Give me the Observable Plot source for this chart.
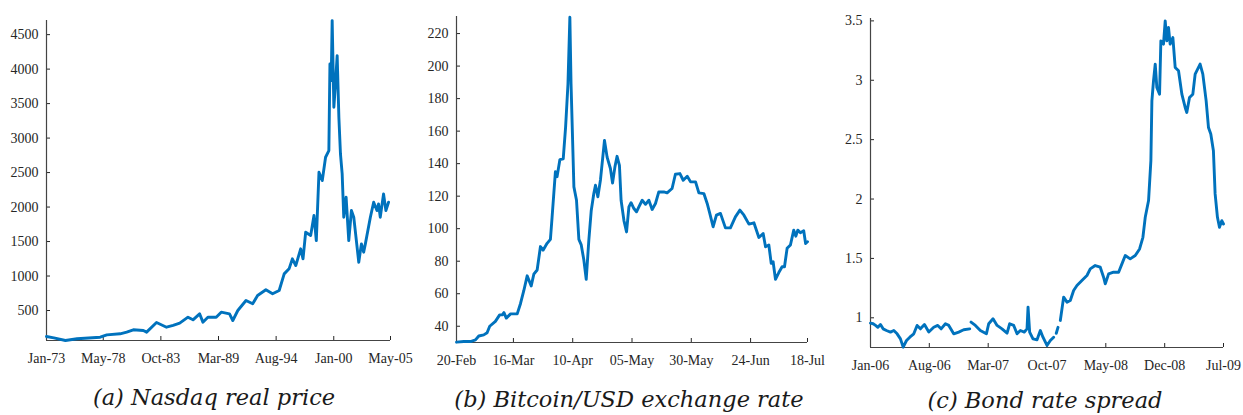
<!DOCTYPE html>
<html><head><meta charset="utf-8">
<script src="https://cdn.jsdelivr.net/npm/d3@7"></script>
<script src="https://cdn.jsdelivr.net/npm/@observablehq/plot@0.6"></script>
<style>
body{margin:0;background:#fff;width:1243px;height:415px;overflow:hidden;position:relative;}
.panel{position:absolute;top:0;}
.panel svg{overflow:visible;}
.cap{position:absolute;font-family:"DejaVu Serif",serif;font-style:italic;font-size:22.5px;line-height:30px;color:#1a1a1a;white-space:nowrap;text-align:center;}
</style></head><body>
<div id="pa" class="panel" style="left:0px"></div>
<div id="pb" class="panel" style="left:410px"></div>
<div id="pc" class="panel" style="left:830px"></div>
<div class="cap" style="left:64px;width:300px;top:382px">(a) Nasdaq real price</div>
<div class="cap" style="left:429px;width:400px;top:384px">(b) Bitcoin/USD exchange rate</div>
<div class="cap" style="left:895px;width:300px;top:385px">(c) Bond rate spread</div>
<script>
// ---- (a) Nasdaq real price ----
const nasdaqYear = [1973.00,1973.69,1974.78,1975.87,1978.05,1978.67,1979.92,1980.54,1981.16,1982.10,1982.41,1983.34,1984.28,1984.90,1985.52,1986.30,1986.77,1987.39,1987.70,1988.17,1988.95,1989.42,1990.20,1990.51,1990.98,1991.75,1992.38,1992.84,1993.62,1994.25,1994.87,1995.34,1995.80,1996.11,1996.43,1996.89,1997.11,1997.36,1997.83,1998.14,1998.36,1998.61,1998.92,1999.23,1999.54,1999.64,1999.76,1999.85,2000.01,2000.16,2000.32,2000.48,2000.63,2000.79,2000.94,2001.16,2001.41,2001.66,2001.88,2002.35,2002.60,2002.81,2002.97,2003.44,2003.75,2004.06,2004.21,2004.37,2004.68,2004.90,2005.15];
const nasdaqValue = [123,104,65,90,113,147,162,186,220,210,186,326,258,283,316,403,365,452,331,403,403,476,452,355,500,645,597,717,800,742,790,1031,1104,1249,1152,1394,1249,1635,1587,1877,1514,2505,2384,2722,2819,4075,3833,4703,3447,3785,4196,3302,2770,2481,1853,2143,1514,1949,1853,1200,1466,1345,1466,1853,2070,1949,2046,1853,2191,1949,2070];
const nasdaqTicks = [1973, 1978.333, 1983.75, 1989.167, 1994.583, 2000, 2005.333];
const nasdaqTickLabels = ["Jan-73","May-78","Oct-83","Mar-89","Aug-94","Jan-00","May-05"];
const nasdaqYTicks = [500,1000,1500,2000,2500,3000,3500,4000,4500];

// ---- (b) Bitcoin/USD (days after 20-Feb) ----
const btcDay = [0,3.1,5.9,8,9.4,11.5,12.9,14,16.4,18.2,19.3,20,21,22.8,25.6,27,28.4,29.8,31.5,32.6,34,35.4,36.5,38.2,39.6,40.3,41.7,42.4,43.6,45,46,47,47.8,48.3,49.5,50.6,51.6,52.6,53.7,54.7,55.8,56.8,57.9,58.6,59.6,60.7,62.4,63.5,64.9,65.8,66.8,67.7,68.7,69.4,70.6,71.7,72.7,73.6,74.8,75.9,76.9,78.3,79.7,81.1,82.5,83.9,85.3,87.4,88.8,90.9,92.3,94.2,95.6,97.3,98.7,100.8,102.2,104.3,105.7,106.8,108.2,109.6,111.3,113.4,115.5,117.6,119.5,121.2,123.3,125.4,127.5,129.3,130.3,131.7,132.7,133.5,134.5,135.9,137.3,138.3,139.4,140.8,142.2,143.1,143.9,145,146.4,147.2,148];
const btcValue = [30.2,30.6,30.6,31.6,34,34.7,36,40,43,47,47,48.4,45,47.6,47.6,54,62,71,64.8,72,74.6,89,86.8,91,93.4,107,135,132,142.5,143,162.5,189,230,189,125.7,117.5,93.4,90,80.7,68.8,93,111,121.6,126.7,119.6,130,154.3,144,137,128,138,144.5,139,117.5,105,98,113.4,116,112.4,110.4,113.4,117.5,115,117.5,111.8,115.5,122.6,122.6,122,124.7,133.5,133.9,129.8,132.3,128.8,128.8,122,121.6,115.5,109.4,101.2,108.3,109.4,100.5,100.5,107.3,111.4,108.3,102.8,103.6,94.6,97,88.9,90,78.7,79.7,68.8,73,76.6,76.6,87.9,90,99.1,95.4,99.1,97.5,98.7,90.9,92];
const btcTicks = [0,24,49,74,99,124,148];
const btcTickLabels = ["20-Feb","16-Mar","10-Apr","05-May","30-May","24-Jun","18-Jul"];
const btcYTicks = [40,60,80,100,120,140,160,180,200,220];

// ---- (c) Bond rate spread (null = missing data) ----
const bondYear = [2006.000,2006.026,2006.050,2006.073,2006.099,2006.125,2006.158,2006.198,2006.231,2006.264,2006.297,2006.324,2006.357,2006.390,2006.429,2006.462,2006.495,2006.535,2006.578,2006.627,2006.667,2006.700,2006.743,2006.776,2006.825,2006.875,2006.924,2006.984,2006.990,2006.997,2007.040,2007.089,2007.149,2007.172,2007.215,2007.255,2007.304,2007.354,2007.380,2007.420,2007.453,2007.486,2007.525,2007.552,2007.562,2007.578,2007.611,2007.651,2007.684,2007.710,2007.750,2007.783,2007.816,2007.829,2007.842,2007.859,2007.868,2007.882,2007.915,2007.948,2007.981,2008.014,2008.047,2008.096,2008.146,2008.179,2008.228,2008.278,2008.311,2008.328,2008.361,2008.410,2008.460,2008.493,2008.526,2008.575,2008.625,2008.668,2008.701,2008.724,2008.757,2008.780,2008.790,2008.806,2008.823,2008.839,2008.866,2008.879,2008.905,2008.922,2008.938,2008.955,2008.971,2008.998,2009.021,2009.054,2009.087,2009.120,2009.136,2009.163,2009.196,2009.219,2009.268,2009.295,2009.328,2009.351,2009.374,2009.400,2009.417,2009.440,2009.460,2009.483,2009.500];
const bondValue = [0.955,0.95,0.936,0.92,0.944,0.907,0.893,0.88,0.893,0.865,0.823,0.753,0.809,0.837,0.865,0.936,0.907,0.944,0.88,0.92,0.936,0.907,0.95,0.936,0.865,0.88,0.899,0.907,null,0.964,0.936,0.893,0.865,0.95,0.992,0.936,0.907,0.871,0.95,0.936,0.865,0.893,0.88,0.907,1.09,0.88,0.823,0.815,0.893,0.837,0.767,0.809,0.837,null,0.87,0.92,null,0.978,1.174,1.132,1.146,1.23,1.272,1.314,1.356,1.412,1.44,1.426,1.342,1.286,1.37,1.384,1.384,1.454,1.524,1.496,1.524,1.58,1.678,1.846,1.987,2.323,2.827,2.995,3.136,2.94,2.883,3.332,3.304,3.5,3.332,3.444,3.304,3.36,3.108,3.08,2.883,2.771,2.729,2.855,2.883,3.052,3.136,3.052,2.827,2.603,2.547,2.407,2.043,1.846,1.762,1.818,1.79];
const bondTicks = [2006, 2006.583, 2007.167, 2007.75, 2008.333, 2008.917, 2009.5];
const bondTickLabels = ["Jan-06","Aug-06","Mar-07","Oct-07","May-08","Dec-08","Jul-09"];
const bondYTicks = [1,1.5,2,2.5,3,3.5];

const SERIF = '"Liberation Serif", "DejaVu Serif", serif';

function panel(o) {
  const data = o.x.map((d, i) => ({x: d, y: o.y[i]}));
  const lab = new Map(o.xTicks.map((t, i) => [t, o.xLabels[i]]));
  return Plot.plot({
    width: o.width, height: o.height,
    marginLeft: o.ml, marginRight: o.mr, marginTop: o.mt, marginBottom: o.mb,
    style: {fontFamily: SERIF, fontSize: "14px", color: "#262626", background: "transparent", overflow: "visible"},
    x: {domain: o.xDomain, ticks: o.xTicks, tickFormat: d => lab.get(d), tickSize: -4, tickPadding: 17, label: null},
    y: {domain: o.yDomain, ticks: o.yTicks, tickFormat: d => String(d), tickSize: -4, tickPadding: 12, label: null},
    marks: [
      Plot.ruleY([o.yDomain[0]], {stroke: "#444", strokeWidth: 1.2}),
      Plot.ruleX([o.xDomain[0]], {stroke: "#444", strokeWidth: 1.2}),
      Plot.line(data, {x: "x", y: "y", stroke: "#0072BD", strokeWidth: 2.9, strokeLinejoin: "round", strokeLinecap: "round"})
    ]
  });
}

document.getElementById("pa").append(panel({
  x: nasdaqYear, y: nasdaqValue, xDomain: [1973, 2005.333], yDomain: [65, 4705],
  xTicks: nasdaqTicks, xLabels: nasdaqTickLabels, yTicks: nasdaqYTicks,
  width: 410, height: 380, ml: 46, mr: 20, mt: 20, mb: 40
}));
document.getElementById("pb").append(panel({
  x: btcDay, y: btcValue, xDomain: [0, 148], yDomain: [30, 230.5],
  xTicks: btcTicks, xLabels: btcTickLabels, yTicks: btcYTicks,
  width: 422, height: 380, ml: 46, mr: 25, mt: 16, mb: 38
}));
document.getElementById("pc").append(panel({
  x: bondYear, y: bondValue, xDomain: [2006, 2009.5], yDomain: [0.75, 3.52],
  xTicks: bondTicks, xLabels: bondTickLabels, yTicks: bondYTicks,
  width: 413, height: 380, ml: 40, mr: 20, mt: 18, mb: 33
}));
</script>
</body></html>
